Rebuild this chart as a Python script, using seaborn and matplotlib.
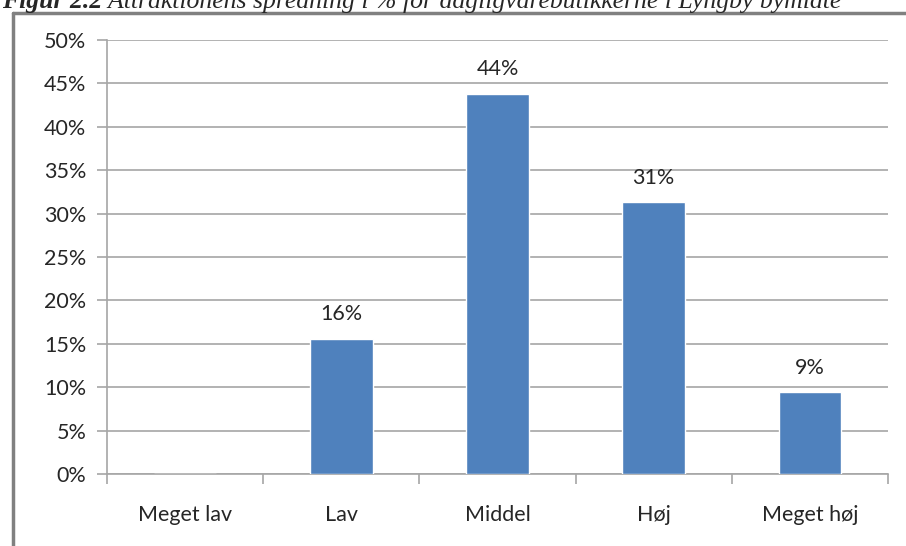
import matplotlib
matplotlib.use("Agg")
import matplotlib.pyplot as plt
import seaborn as sns
import pandas as pd
from matplotlib.ticker import MultipleLocator, FuncFormatter
from matplotlib.lines import Line2D

categories = ["Meget lav", "Lav", "Middel", "Høj", "Meget høj"]
values = [0.0, 15.6, 43.8, 31.3, 9.4]
labels = ["", "16%", "44%", "31%", "9%"]
title_bold = "Figur 2.2"
title_rest = " Attraktionens spredning i % for dagligvarebutikkerne i Lyngby bymidte"

df = pd.DataFrame({"cat": categories, "val": values})

sns.set_theme(style="white")
plt.rcParams["font.family"] = ["Lato", "DejaVu Sans"]

fig = plt.figure(figsize=(9.06, 5.46), dpi=100)
ax = fig.add_axes([107/906, 1-474/546, (888-107)/906, (474-40)/546])

sns.barplot(data=df, x="cat", y="val", color="#4F81BD", width=0.4,
            saturation=1, ax=ax, zorder=3)

ax.set_ylim(0, 50)
ax.set_xlim(-0.5, 4.5)
ax.yaxis.set_major_locator(MultipleLocator(5))
ax.yaxis.set_major_formatter(FuncFormatter(lambda v, p: f"{int(round(v))}%"))
ax.grid(axis="y", color="#A6A6A6", linewidth=1.2, zorder=0)
ax.set_axisbelow(True)
ax.set_xlabel("")
ax.set_ylabel("")

for s in ["top", "right"]:
    ax.spines[s].set_visible(False)
ax.spines["left"].set_color("#A6A6A6")
ax.spines["bottom"].set_color("#A6A6A6")
ax.spines["left"].set_linewidth(1.2)
ax.spines["bottom"].set_linewidth(1.2)

FS = 15.5
ax.tick_params(axis="y", which="major", direction="out", length=7, width=1.2,
               color="#A6A6A6", labelsize=FS, labelcolor="#262626", pad=8, left=True)
ax.set_xticks(range(len(categories)))
ax.set_xticklabels(categories)
ax.tick_params(axis="x", which="major", length=0, labelsize=FS, labelcolor="#262626", pad=22)
ax.set_xticks([i - 0.5 for i in range(len(categories) + 1)], minor=True)
ax.tick_params(axis="x", which="minor", direction="out", length=7, width=1.2,
               color="#A6A6A6", bottom=True)

for i, (v, lab) in enumerate(zip(values, labels)):
    if lab:
        ax.text(i, v + 1.7, lab, ha="center", va="bottom", fontsize=FS, color="#262626")

# chart frame lines
fig.add_artist(Line2D([12.5/906, 12.5/906], [0, 1-12.5/546], transform=fig.transFigure,
                      color="#808080", linewidth=2.5))
fig.add_artist(Line2D([12.5/906, 1], [1-12.5/546, 1-12.5/546], transform=fig.transFigure,
                      color="#808080", linewidth=2.5))

# title (cut off at the top edge, as in the reference)
t1 = fig.text(0.002, 1-8/546, title_bold, fontsize=18.5, family="Liberation Serif",
              fontweight="bold", fontstyle="italic", va="baseline", ha="left")
fig.canvas.draw()
bb = t1.get_window_extent()
fig.text(bb.x1/906, 1-8/546, title_rest, fontsize=18.5, family="Liberation Serif",
         fontstyle="italic", va="baseline", ha="left")

fig.savefig("out.png", dpi=100)
